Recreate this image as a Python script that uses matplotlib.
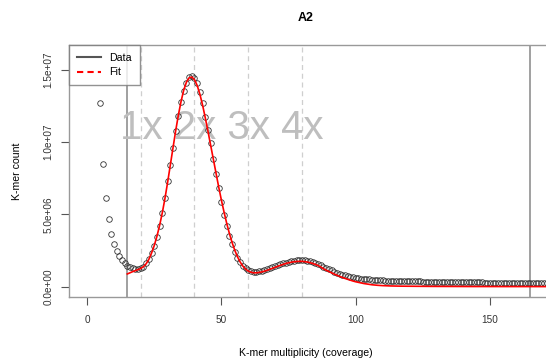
import matplotlib
matplotlib.use("Agg")
import matplotlib.pyplot as plt
from matplotlib.lines import Line2D
import numpy as np

plt.rcParams['font.family'] = ['Liberation Sans', 'DejaVu Sans']

# ---- data (counts in millions) ----
data_x = list(range(5, 172))
data_m = [
    12.7, 8.50, 6.12, 4.67, 3.68, 2.97, 2.48, 2.12, 1.84, 1.63,          # 5-14
    1.47, 1.36, 1.29, 1.24, 1.24, 1.29, 1.40, 1.63, 1.93, 2.37,          # 15-24
    2.83, 3.47, 4.23, 5.12, 6.14, 7.30, 8.42, 9.59, 10.76, 11.80,        # 25-34
    12.74, 13.54, 14.09, 14.46, 14.55, 14.41, 14.09, 13.47, 12.71, 11.74,  # 35-44
    10.85, 9.91, 8.80, 7.80, 6.83, 5.84, 4.97, 4.19, 3.54, 2.94,         # 45-54
    2.43, 2.00, 1.70, 1.45, 1.28, 1.17, 1.10, 1.06, 1.05, 1.07,          # 55-64
    1.11, 1.16, 1.22, 1.29, 1.36, 1.43, 1.50, 1.57, 1.63, 1.68,          # 65-74
    1.73, 1.77, 1.80, 1.83, 1.84, 1.84, 1.83, 1.80, 1.76, 1.71,          # 75-84
    1.65, 1.58, 1.49, 1.40, 1.31, 1.22, 1.14, 1.06, 0.99, 0.92,          # 85-94
    0.86, 0.81, 0.76, 0.72, 0.68, 0.64, 0.61, 0.58, 0.56, 0.54,          # 95-104
    0.52, 0.50, 0.49, 0.47, 0.46, 0.45, 0.44, 0.43, 0.43, 0.42,          # 105-114
    0.42, 0.41, 0.41, 0.40, 0.40, 0.39, 0.39, 0.38, 0.38, 0.38,          # 115-124
    0.37, 0.37, 0.37, 0.36, 0.36, 0.36, 0.35, 0.35, 0.35, 0.35,          # 125-134
    0.34, 0.34, 0.34, 0.34, 0.33, 0.33, 0.33, 0.33, 0.32, 0.32,          # 135-144
    0.32, 0.32, 0.32, 0.31, 0.31, 0.31, 0.31, 0.31, 0.30, 0.30,          # 145-154
    0.30, 0.30, 0.30, 0.30, 0.29, 0.29, 0.29, 0.29, 0.29, 0.29,          # 155-164
    0.29, 0.28, 0.28, 0.28, 0.28, 0.28, 0.28,                            # 165-171
]

fit_x = list(range(15, 172))
fit_m = [
    0.90, 0.98, 1.06, 1.13, 1.20, 1.28, 1.40, 1.60, 1.90, 2.33,          # 15-24
    2.85, 3.48, 4.23, 5.10, 6.10, 7.22, 8.40, 9.60, 10.78, 11.86,        # 25-34
    12.80, 13.58, 14.13, 14.43, 14.48, 14.30, 13.90, 13.30, 12.55, 11.68,  # 35-44
    10.75, 9.78, 8.80, 7.84, 6.90, 6.00, 5.16, 4.38, 3.68, 3.06,         # 45-54
    2.53, 2.08, 1.72, 1.44, 1.24, 1.10, 1.02, 0.98, 0.98, 1.00,          # 55-64
    1.04, 1.09, 1.15, 1.22, 1.29, 1.36, 1.43, 1.50, 1.56, 1.62,          # 65-74
    1.67, 1.71, 1.74, 1.76, 1.77, 1.77, 1.75, 1.72, 1.68, 1.62,          # 75-84
    1.56, 1.48, 1.38, 1.26, 1.16, 1.07, 0.98, 0.89, 0.81, 0.73,          # 85-94
    0.66, 0.59, 0.53, 0.47, 0.41, 0.36, 0.32, 0.28, 0.24, 0.21,          # 95-104
    0.18, 0.155, 0.135, 0.12, 0.105, 0.095, 0.085, 0.078, 0.072, 0.067,  # 105-114
    0.063, 0.060, 0.057, 0.055, 0.053, 0.051, 0.050, 0.048, 0.047, 0.046,  # 115-124
    0.045, 0.044, 0.043, 0.042, 0.041, 0.040, 0.040, 0.039, 0.038, 0.038,  # 125-134
    0.037, 0.037, 0.036, 0.036, 0.035, 0.035, 0.034, 0.034, 0.034, 0.033,  # 135-144
    0.033, 0.033, 0.032, 0.032, 0.032, 0.031, 0.031, 0.031, 0.031, 0.030,  # 145-154
    0.030, 0.030, 0.030, 0.030, 0.029, 0.029, 0.029, 0.029, 0.029, 0.028,  # 155-164
    0.028, 0.028, 0.028, 0.028, 0.028, 0.028, 0.028,                     # 165-171
]

peak_lines = [20, 40, 60, 80]
bound_lines = [15, 165]
x_ticks = [0, 50, 100, 150]
y_ticks = [0, 5e6, 1e7, 1.5e7]
y_tick_labels = ["0.0e+00", "5.0e+06", "1.0e+07", "1.5e+07"]
title = "A2"
xlabel = "K-mer multiplicity (coverage)"
ylabel = "K-mer count"
big_text = "1x 2x 3x 4x"

data_y = np.array(data_m) * 1e6
fit_y = np.array(fit_m) * 1e6

fig = plt.figure(figsize=(5.46, 3.63), dpi=100)
W, H = 546, 363
left, right, top, bottom = 69, 546, 45, 297
ax = fig.add_axes([left / W, 1 - bottom / H, (right - left) / W, (bottom - top) / H])
ax.set_xlim(-6.7, 170.8)
ax.set_ylim(-0.69e6, 16.69e6)

for v in peak_lines:
    ax.axvline(v, color='#cfcfcf', lw=0.9, ls=(0, (4, 3)), zorder=1)
for v in bound_lines:
    ax.axvline(v, color='#999999', lw=1.3, zorder=1)

ax.text(50, 1.10e7, big_text, color='#bebebe', fontsize=29, ha='center', va='center', zorder=2)

ax.plot(data_x, data_y, ls='none', marker='o', ms=4.0, mfc='none', mec='#333333', mew=0.6, zorder=3)
ax.plot(fit_x, fit_y, color='red', lw=1.2, zorder=4)

for s in ['left', 'top', 'bottom']:
    ax.spines[s].set_color('#999999')
    ax.spines[s].set_linewidth(1.0)
ax.spines['right'].set_visible(False)

ax.set_xticks(x_ticks)
ax.set_xticklabels([str(t) for t in x_ticks], fontsize=7.2, color='#333333')
ax.set_yticks(y_ticks)
ax.set_yticklabels(y_tick_labels, fontsize=7.2, rotation=90, va='center', color='#333333')
ax.tick_params(axis='both', length=6, width=0.8, color='#555555')
ax.tick_params(axis='x', pad=7)
ax.tick_params(axis='y', pad=5)

fig.text(306 / W, 1 - 18 / H, title, fontsize=9, fontweight='bold', ha='center', va='center')
fig.text(306 / W, 1 - 353 / H, xlabel, fontsize=7.6, ha='center', va='center')
fig.text(17 / W, 1 - 171 / H, ylabel, fontsize=7.6, ha='center', va='center', rotation=90)

handles = [Line2D([], [], color='#555555', lw=1.5),
           Line2D([], [], color='red', lw=1.5, ls=(0, (3, 2)))]
leg = ax.legend(handles, ['Data', 'Fit'], loc='upper left', fontsize=7.7, frameon=True,
                fancybox=False, borderaxespad=0, handlelength=2.2, handletextpad=0.8,
                borderpad=0.75, labelspacing=0.4)
leg.get_frame().set_edgecolor('#777777')
leg.get_frame().set_linewidth(1.0)

fig.savefig('out.png', dpi=100)
